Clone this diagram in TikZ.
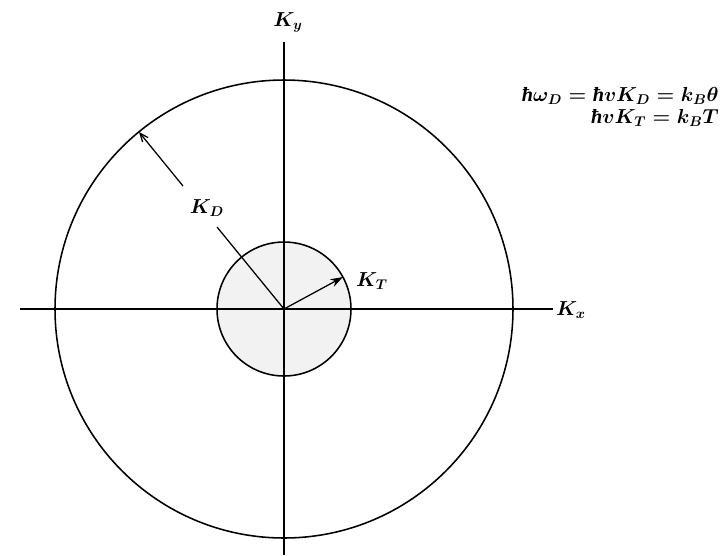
\documentclass[tikz,border=0pt]{standalone}
\usepackage{fontspec}
\newfontfamily\hbarfont{Liberation Serif}
\newcommand{\hb}{\mbox{\hbarfont\bfseries\itshape ħ}}
\usetikzlibrary{arrows.meta}
\tikzset{
	axisline/.style={line width=1.3pt},
	ring/.style={line width=1.1pt},
	vec/.style={line width=0.9pt},
	lbl/.style={font=\boldmath\Large, inner sep=1pt},
	eqn/.style={font=\boldmath\fontsize{14.4}{15.5}\selectfont, align=right, anchor=east, inner sep=0pt},
}
\begin{document}
\begin{tikzpicture}[x=0.025cm,y=-0.025cm]
		\useasboundingbox (0,0) rectangle (724,555);
		\coordinate (O) at (284,309);
		\coordinate (xl) at (20,309);
		\coordinate (xr) at (553,309);
		\coordinate (yt) at (284,42);
		\coordinate (yb) at (284,555);
		\coordinate (kt) at (343,277);
		\coordinate (kd1) at (217,227);
		\coordinate (kd2) at (183,186);
		\coordinate (kd) at (139,132);
		\node[lbl] (Ky) at (288,22) {$K_y$};
		\node[lbl] (Kx) at (571,310) {$K_x$};
		\node[lbl] (KD) at (207,208) {$K_D$};
		\node[lbl] (KT) at (372,281) {$K_T$};
		\node[eqn] (eq) at (719,107) {$\hb\omega_D = \hb v K_D = k_B\theta$\\$\hb v K_T = k_B T$};
		\fill[gray!10] (O) circle (67);
		\draw[ring] (O) circle (229);
		\draw[ring] (O) circle (67);
		\draw[axisline] (xl) -- (xr);
		\draw[axisline] (yt) -- (yb);
		\draw[vec, -{Stealth[length=9pt,width=6pt]}] (O) -- (kt);
		\draw[vec] (O) -- (kd1);
		\draw[vec, -{Straight Barb[length=6pt,width=5pt]}] (kd2) -- (kd);
	\end{tikzpicture}
\end{document}
